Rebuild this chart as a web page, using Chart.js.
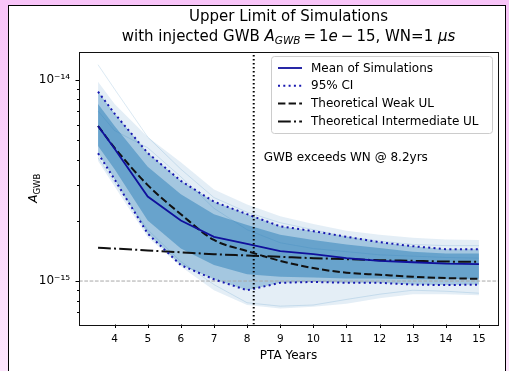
<!DOCTYPE html>
<html><head><meta charset="utf-8">
<script src="https://cdn.jsdelivr.net/npm/chart.js@4/dist/chart.umd.min.js"></script>
<style>
html,body{margin:0;padding:0;}
body{width:509px;height:371px;overflow:hidden;background:linear-gradient(to bottom,#f8c4f8,#fde6fd);position:relative;font-family:"DejaVu Sans";}
#frame{position:absolute;left:8px;top:5px;width:496px;height:420px;background:#fff;border:1px solid #000;}
#wrap{position:absolute;left:0;top:0;width:509px;height:371px;}
</style></head><body>
<div id="frame"></div>
<div id="wrap"><canvas id="c" width="509" height="371"></canvas></div>
<script>
// ---------------- data ----------------
const years = [3.5, 4, 5, 6, 7, 8, 9, 10, 11, 12, 13, 14, 15];
const meanSim = [5.9e-15, 4.55e-15, 2.63e-15, 2.0e-15, 1.66e-15, 1.53e-15, 1.41e-15, 1.36e-15, 1.30e-15, 1.26e-15, 1.24e-15, 1.22e-15, 1.215e-15];
const ciUpper = [8.74e-15, 6.8e-15, 4.33e-15, 3.15e-15, 2.48e-15, 2.15e-15, 1.87e-15, 1.77e-15, 1.66e-15, 1.56e-15, 1.49e-15, 1.44e-15, 1.44e-15];
const ciLower = [4.32e-15, 3.2e-15, 1.72e-15, 1.2e-15, 1.02e-15, 9.0e-16, 9.8e-16, 9.9e-16, 9.8e-16, 9.8e-16, 9.6e-16, 9.55e-16, 9.6e-16];
const weakUL = [5.9e-15, 4.6e-15, 3.0e-15, 2.15e-15, 1.6e-15, 1.41e-15, 1.26e-15, 1.16e-15, 1.10e-15, 1.075e-15, 1.05e-15, 1.035e-15, 1.025e-15];
const intermediateUL = [1.465e-15, 1.45e-15, 1.42e-15, 1.39e-15, 1.36e-15, 1.34e-15, 1.32e-15, 1.30e-15, 1.285e-15, 1.27e-15, 1.26e-15, 1.25e-15, 1.245e-15];
// spread of the individual simulation curves
const simMax = [9.8e-15, 7.6e-15, 5.2e-15, 3.9e-15, 2.85e-15, 2.4e-15, 2.1e-15, 1.92e-15, 1.78e-15, 1.70e-15, 1.64e-15, 1.61e-15, 1.60e-15];
const simMin = [3.95e-15, 2.95e-15, 1.65e-15, 1.18e-15, 9.0e-16, 7.6e-16, 7.3e-16, 7.45e-16, 7.7e-16, 8.2e-16, 8.6e-16, 8.6e-16, 8.5e-16];
const simCoreUpper = [7.6e-15, 5.9e-15, 3.7e-15, 2.7e-15, 2.15e-15, 1.9e-15, 1.7e-15, 1.6e-15, 1.52e-15, 1.46e-15, 1.40e-15, 1.37e-15, 1.37e-15];
const simCoreLower = [4.7e-15, 3.6e-15, 2.0e-15, 1.45e-15, 1.2e-15, 1.08e-15, 1.05e-15, 1.04e-15, 1.03e-15, 1.03e-15, 1.02e-15, 1.02e-15, 1.03e-15];
// a few individual simulation curves that stand out
const simHigh = [1.19e-14, 9.0e-15, 5.2e-15, 3.6e-15, 2.6e-15, 2.2e-15, 1.95e-15, 1.8e-15, 1.66e-15, 1.58e-15, 1.52e-15, 1.5e-15, 1.5e-15];
const simLow = [4.1e-15, 3.1e-15, 1.8e-15, 1.25e-15, 9.6e-16, 7.8e-16, 7.5e-16, 7.6e-16, 8.1e-16, 8.6e-16, 9.0e-16, 8.9e-16, 8.7e-16];
const simMid = [7.0e-15, 5.6e-15, 4.6e-15, 3.3e-15, 2.3e-15, 1.8e-15, 1.55e-15, 1.45e-15, 1.4e-15, 1.35e-15, 1.33e-15, 1.31e-15, 1.3e-15];
const crossYear = 8.2;          // GWB exceeds WN
const injectedAmp = 1e-15;      // horizontal reference
const xTickValues = [4, 5, 6, 7, 8, 9, 10, 11, 12, 13, 14, 15];
const yTickValues = [7e-16, 8e-16, 9e-16, 1e-15, 2e-15, 3e-15, 4e-15, 5e-15, 6e-15, 7e-15, 8e-15, 9e-15, 1e-14];
const yMajorLabels = {'-15': '10\u207B\u00B9\u2075', '-14': '10\u207B\u00B9\u2074'};
const xRange = [2.925, 15.575];
const yRange = [6.08e-16, 1.377e-14];
const legendLabels = ['Mean of Simulations', '95% CI', 'Theoretical Weak UL', 'Theoretical Intermediate UL'];
const annotation = {text: 'GWB exceeds WN @ 8.2yrs', x: 8.5, y: 4.1e-15};

// ---------------- helpers ----------------
const pts = arr => years.map((x, i) => ({x: x, y: arr[i]}));
const C0 = 'rgba(31,119,180,';
const meanColor = '#10109c';
const FONT = '"DejaVu Sans", sans-serif';

function richWidth(ctx, segs) {
  let w = 0;
  segs.forEach(s => { ctx.font = (s.it ? 'italic ' : '') + s.size + 'px ' + FONT; w += ctx.measureText(s.t).width; });
  return w;
}
function drawRich(ctx, segs, x, y) {
  segs.forEach(s => {
    ctx.font = (s.it ? 'italic ' : '') + s.size + 'px ' + FONT;
    ctx.fillText(s.t, x, y + (s.dy || 0));
    x += ctx.measureText(s.t).width;
  });
}

const decorPlugin = {
  id: 'decor',
  afterDraw(chart) {
    const ctx = chart.ctx, a = chart.chartArea;
    const xs = chart.scales.x, ys = chart.scales.y;
    ctx.save();
    ctx.fillStyle = '#000';
    ctx.textBaseline = 'alphabetic';
    // ticks
    ctx.strokeStyle = '#000'; ctx.lineWidth = 1;
    ctx.beginPath();
    xTickValues.forEach(v => { const p = Math.round(xs.getPixelForValue(v)) + 0.5; ctx.moveTo(p, a.bottom); ctx.lineTo(p, a.bottom + 3.5); });
    yTickValues.forEach(v => {
      const lg = Math.log10(v); const major = Math.abs(lg - Math.round(lg)) < 1e-9;
      const p = Math.round(ys.getPixelForValue(v)) + 0.5; ctx.moveTo(a.left, p); ctx.lineTo(a.left - (major ? 3.5 : 2), p);
    });
    ctx.stroke();
    // spines
    ctx.strokeStyle = '#111';
    ctx.strokeRect(Math.round(a.left) + 0.5, Math.round(a.top) + 0.5, Math.round(a.right - a.left), Math.round(a.bottom - a.top));
    // title
    ctx.textAlign = 'left';
    const cx = (a.left + a.right) / 2;
    const l1 = [{t: 'Upper Limit of Simulations', size: 15}];
    const l2 = [{t: 'with injected GWB ', size: 15}, {t: 'A', size: 15, it: true}, {t: 'GWB', size: 10.5, it: true, dy: 3},
      {t: '\u2009=\u20091', size: 15}, {t: 'e', size: 15, it: true}, {t: '\u2009\u2212\u200915, WN=1 ', size: 15}, {t: '\u03BCs', size: 15, it: true}];
    drawRich(ctx, l1, cx - richWidth(ctx, l1) / 2, 21);
    drawRich(ctx, l2, cx - richWidth(ctx, l2) / 2, 41);
    // y label (rotated)
    const yl = [{t: 'A', size: 12, it: true}, {t: 'GWB', size: 8.5, dy: 2.5}];
    ctx.save();
    ctx.translate(33, (a.top + a.bottom) / 2);
    ctx.rotate(-Math.PI / 2);
    drawRich(ctx, yl, -richWidth(ctx, yl) / 2, 4);
    ctx.restore();
    // annotation
    ctx.font = '12px ' + FONT; ctx.textBaseline = 'middle';
    ctx.fillText(annotation.text, xs.getPixelForValue(annotation.x), ys.getPixelForValue(annotation.y));
    // legend
    const lx = 271, ly = 56, lw = 221, lh = 77;
    ctx.beginPath();
    ctx.roundRect(lx + 0.5, ly + 0.5, lw, lh, 3);
    ctx.fillStyle = 'rgba(255,255,255,0.8)'; ctx.fill();
    ctx.strokeStyle = '#cccccc'; ctx.lineWidth = 1; ctx.stroke();
    const ds = chart.data.datasets;
    [0, 1, 3, 4].forEach((di, r) => {
      const d = ds[di]; const y = ly + 12 + r * 17.8;
      ctx.beginPath(); ctx.setLineDash(d.borderDash || []); ctx.lineDashOffset = 0;
      ctx.strokeStyle = d.borderColor; ctx.lineWidth = d.borderWidth; ctx.lineCap = 'butt';
      ctx.moveTo(278, y); ctx.lineTo(302, y); ctx.stroke();
      ctx.setLineDash([]);
      ctx.fillStyle = '#000'; ctx.font = '12px ' + FONT; ctx.textBaseline = 'middle';
      ctx.fillText(legendLabels[r], 311, y + 0.5);
    });
    ctx.restore();
  }
};

const line = (data, o) => Object.assign({data: data, pointRadius: 0, fill: false, tension: 0, borderCapStyle: 'butt'}, o);

new Chart(document.getElementById('c'), {
  type: 'line',
  data: {
    datasets: [
      line(pts(meanSim), {label: legendLabels[0], borderColor: meanColor, borderWidth: 1.8, order: 1}),
      line(pts(ciUpper), {label: legendLabels[1], borderColor: '#1818b0', borderWidth: 2, borderDash: [2, 3.3], order: 2}),
      line(pts(ciLower), {label: legendLabels[1], borderColor: '#1818b0', borderWidth: 2, borderDash: [2, 3.3], order: 2}),
      line(pts(weakUL), {label: legendLabels[2], borderColor: '#111', borderWidth: 2, borderDash: [7.4, 3.2], cubicInterpolationMode: 'monotone', order: 3}),
      line(pts(intermediateUL), {label: legendLabels[3], borderColor: '#111', borderWidth: 2, borderDash: [12.8, 3.2, 2, 3.2], cubicInterpolationMode: 'monotone', order: 3}),
      line([{x: crossYear, y: yRange[0]}, {x: crossYear, y: yRange[1]}], {label: 'cross', borderColor: '#000', borderWidth: 2, borderDash: [1.6, 2.4], order: 0}),
      line([{x: xRange[0], y: injectedAmp}, {x: xRange[1], y: injectedAmp}], {label: 'ref', borderColor: '#a8a8a8', borderWidth: 1, borderDash: [3.7, 1.6], order: 4}),
      line(pts(simHigh), {label: 'sim', borderColor: C0 + '0.16)', borderWidth: 1, order: 5}),
      line(pts(simLow), {label: 'sim', borderColor: C0 + '0.16)', borderWidth: 1, order: 5}),
      line(pts(simMid), {label: 'sim', borderColor: C0 + '0.16)', borderWidth: 1, order: 5}),
      line(pts(simCoreUpper), {label: 'core', borderWidth: 0, backgroundColor: C0 + '0.45)', fill: '+1', order: 6}),
      line(pts(simCoreLower), {label: 'core', borderWidth: 0, order: 6}),
      line(pts(ciUpper), {label: 'band', borderWidth: 0, backgroundColor: C0 + '0.32)', fill: '+1', order: 7}),
      line(pts(ciLower), {label: 'band', borderWidth: 0, order: 7}),
      line(pts(simMax), {label: 'spread', borderWidth: 0, backgroundColor: C0 + '0.12)', fill: '+1', order: 8}),
      line(pts(simMin), {label: 'spread', borderWidth: 0, order: 8})
    ]
  },
  options: {
    responsive: false, animation: false, devicePixelRatio: 1,
    layout: {padding: {left: 0, right: 11, top: 52, bottom: 7.8}},
    plugins: {legend: {display: false}, tooltip: {enabled: false}, title: {display: false}},
    scales: {
      x: {
        type: 'linear', min: xRange[0], max: xRange[1],
        afterBuildTicks: s => { s.ticks = xTickValues.map(v => ({value: v})); },
        afterFit: s => { s.height = 38.7; },
        grid: {display: true, drawOnChartArea: false, drawTicks: true, tickLength: 4, color: 'rgba(0,0,0,0)'},
        border: {display: false},
        ticks: {autoSkip: false, maxRotation: 0, padding: 4, color: '#000', font: {family: FONT, size: 10.5}, callback: v => String(v)},
        title: {display: true, text: 'PTA Years', color: '#000', font: {family: FONT, size: 12}, padding: {top: 0, bottom: 0}}
      },
      y: {
        type: 'logarithmic', min: yRange[0], max: yRange[1],
        afterBuildTicks: s => { s.ticks = yTickValues.map(v => ({value: v})); },
        afterFit: s => { s.width = 79; },
        grid: {display: true, drawOnChartArea: false, drawTicks: true, tickLength: 4, color: 'rgba(0,0,0,0)'},
        border: {display: false},
        ticks: {autoSkip: false, padding: 5, color: '#000', font: {family: FONT, size: 12},
          callback: v => { const lg = Math.log10(v); const r = Math.round(lg); return Math.abs(lg - r) < 1e-9 ? (yMajorLabels[String(r)] || '') : ''; }}
      }
    }
  },
  plugins: [decorPlugin]
});
</script>
</body></html>
